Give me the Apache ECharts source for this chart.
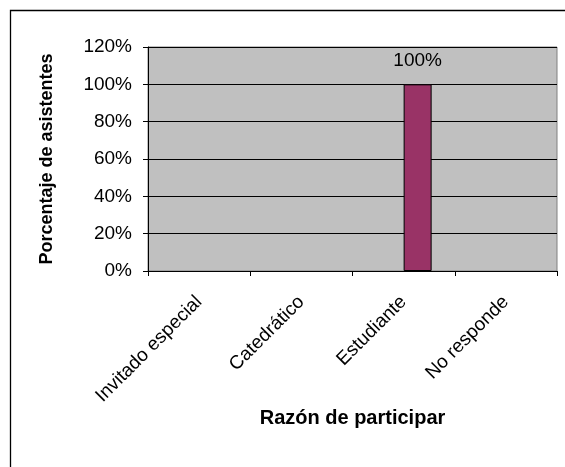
<!DOCTYPE html>
<html>
<head>
<meta charset="utf-8">
<script src="https://cdn.jsdelivr.net/npm/echarts@6/dist/echarts.min.js"></script>
<style>
  html, body { margin: 0; padding: 0; background: #fff; }
  #chart { width: 565px; height: 467px; }
</style>
</head>
<body>
<div id="chart"></div>
<script>
// Razón de participar — share of attendees per category
const categories = ['Invitado especial', 'Catedrático', 'Estudiante', 'No responde'];
// first series of the cluster has no values; the second holds the answers
const emptySeries = [null, null, null, null];
const asistentes = [null, null, 1.0, null];
const yTicks = { min: 0, max: 1.2, interval: 0.2 };

const FONT = 'Liberation Sans, Arial, sans-serif';
const pct = v => Math.round(v * 100) + '%';

const chart = echarts.init(document.getElementById('chart'), null, { renderer: 'canvas' });

chart.setOption({
  backgroundColor: '#ffffff',
  animation: false,
  textStyle: { fontFamily: FONT },
  graphic: [
    {
      // chart-area frame (runs off the right and bottom edges)
      type: 'rect',
      shape: { x: 10.5, y: 10.5, width: 700, height: 600 },
      style: { fill: 'none', stroke: '#000', lineWidth: 1.3 },
      z: -10
    }
  ],
  grid: {
    left: 148, top: 47, right: 8, bottom: 196,
    show: true,
    backgroundColor: '#c0c0c0',
    borderColor: '#808080',
    borderWidth: 1
  },
  xAxis: {
    type: 'category',
    data: categories,
    boundaryGap: true,
    axisLine: { lineStyle: { color: '#000', width: 1 } },
    axisTick: { show: true, length: 5, alignWithLabel: false, lineStyle: { color: '#000' } },
    axisLabel: {
      rotate: 45, margin: 28, color: '#000', fontSize: 19, fontFamily: FONT
    },
    name: 'Razón de participar',
    nameLocation: 'middle',
    nameGap: 122,
    nameTextStyle: { fontSize: 20, fontWeight: 'bold', color: '#000', fontFamily: FONT }
  },
  yAxis: {
    type: 'value',
    min: yTicks.min, max: yTicks.max, interval: yTicks.interval,
    axisLine: { show: true, lineStyle: { color: '#000', width: 1 } },
    axisTick: { show: true, length: 5, lineStyle: { color: '#000' } },
    splitLine: { show: true, lineStyle: { color: '#000', width: 1 } },
    axisLabel: {
      formatter: pct, margin: 16, color: '#000', fontSize: 19, fontFamily: FONT
    },
    name: 'Porcentaje de asistentes',
    nameLocation: 'middle',
    nameGap: 92,
    nameTextStyle: { fontSize: 18, fontWeight: 'bold', color: '#000', fontFamily: FONT }
  },
  series: [
    {
      type: 'bar',
      data: emptySeries,
      barWidth: 28,
      barGap: '0%',
      itemStyle: { color: '#9999ff', borderColor: '#000', borderWidth: 1 }
    },
    {
      type: 'bar',
      data: asistentes,
      barWidth: 28,
      barGap: '0%',
      itemStyle: { color: '#993366', borderColor: '#000', borderWidth: 1 },
      label: {
        show: true, position: 'top', distance: 14,
        formatter: p => pct(p.value),
        color: '#000', fontSize: 19, fontFamily: FONT
      }
    }
  ]
});
</script>
</body>
</html>
